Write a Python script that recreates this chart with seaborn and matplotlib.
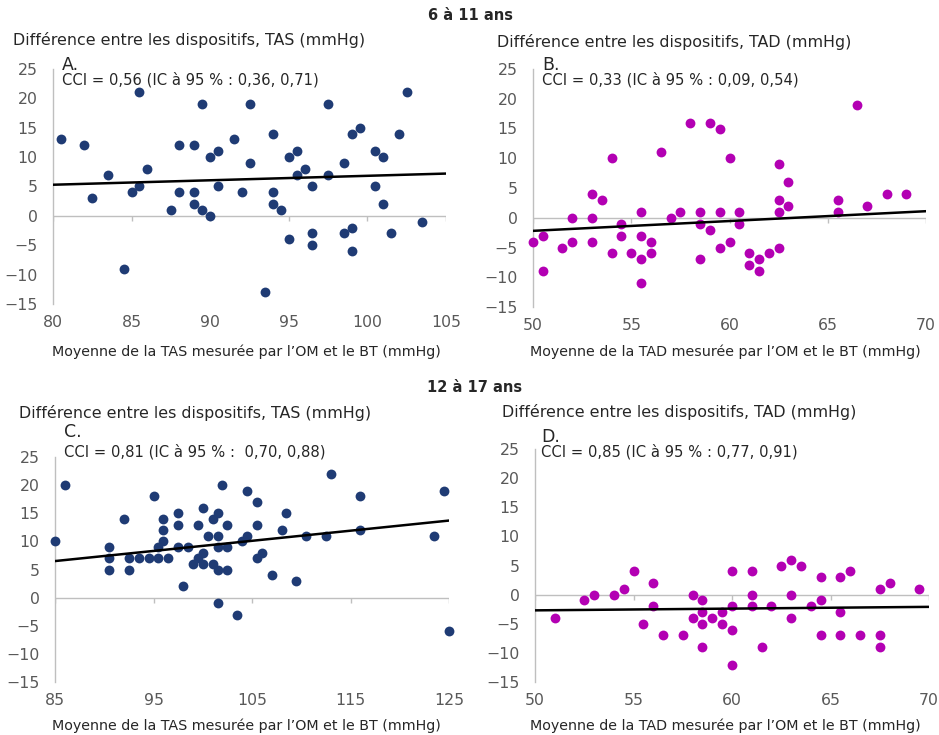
import matplotlib
matplotlib.use("Agg")
import matplotlib.pyplot as plt
import seaborn as sns

W, H = 939, 735

# A. 6 à 11 ans, TAS
tas_enf_x = [80.5, 82, 82.5, 83.5, 84.5, 85, 85.5, 85.5, 86, 87.5, 88, 88, 89, 89, 89, 89.5,
             89.5, 90, 90, 90.5, 90.5, 91.5, 92, 92.5, 92.5, 93.5, 94, 94, 94, 94.5, 95, 95,
             95.5, 95.5, 96, 96.5, 96.5, 96.5, 97.5, 97.5, 98.5, 98.5, 99, 99, 99, 99.5, 100.5,
             100.5, 101, 101, 101.5, 102, 102.5, 103.5]
tas_enf_y = [13, 12, 3, 7, -9, 4, 21, 5, 8, 1, 12, 4, 12, 4, 2, 19,
             1, 10, 0, 11, 5, 13, 4, 19, 9, -13, 14, 4, 2, 1, 10, -4,
             11, 7, 8, 5, -3, -5, 19, 7, 9, -3, 14, -2, -6, 15, 11,
             5, 10, 2, -3, 14, 21, -1]

# B. 6 à 11 ans, TAD
tad_enf_x = [50, 50.5, 50.5, 51.5, 52, 52, 53, 53, 53, 53.5, 54, 54, 54.5, 54.5, 55, 55.5,
             55.5, 55.5, 55.5, 56, 56, 56.5, 57, 57.5, 58, 58.5, 58.5, 58.5, 59, 59, 59.5, 59.5,
             59.5, 60, 60, 60.5, 60.5, 61, 61, 61.5, 61.5, 62, 62.5, 62.5, 62.5, 62.5, 63, 63,
             65.5, 65.5, 66.5, 67, 68, 69]
tad_enf_y = [-4, -3, -9, -5, 0, -4, 4, 0, -4, 3, 10, -6, -1, -3, -6, 1,
             -3, -7, -11, -4, -6, 11, 0, 1, 16, 1, -1, -7, 16, -2, 15, 1,
             -5, 10, -4, 1, -1, -6, -8, -7, -9, -6, 9, 3, 1, -5, 6, 2,
             3, 1, 19, 2, 4, 4]

# C. 12 à 17 ans, TAS
tas_ado_x = [85, 86, 90.5, 90.5, 90.5, 92, 92.5, 92.5, 93.5, 94.5, 95, 95.5, 95.5, 96, 96, 96,
             96.5, 97.5, 97.5, 97.5, 98, 98.5, 99, 99.5, 99.5, 100, 100, 100, 100.5, 101, 101,
             101.5, 101.5, 101.5, 101.5, 101.5, 102, 102.5, 102.5, 102.5, 103.5, 104, 104.5,
             104.5, 105.5, 105.5, 105.5, 106, 107, 108, 108.5, 109.5, 110.5, 112.5, 113, 116,
             116, 123.5, 124.5, 125]
tas_ado_y = [10, 20, 9, 7, 5, 14, 7, 5, 7, 7, 18, 9, 7, 14, 12, 10,
             7, 15, 13, 9, 2, 9, 6, 13, 7, 16, 8, 6, 11, 14, 6,
             15, 11, 9, 5, -1, 20, 13, 9, 5, -3, 10, 19,
             11, 17, 13, 7, 8, 4, 12, 15, 3, 11, 11, 22, 18,
             12, 11, 19, -6]

# D. 12 à 17 ans, TAD
tad_ado_x = [51, 52.5, 53, 54, 54.5, 55, 55.5, 56, 56, 56.5, 57.5, 58, 58, 58.5, 58.5, 58.5,
             58.5, 59, 59.5, 59.5, 60, 60, 60, 60, 61, 61, 61, 61.5, 62, 62.5, 63, 63, 63,
             63.5, 64, 64.5, 64.5, 64.5, 65.5, 65.5, 65.5, 66, 66.5, 67.5, 67.5, 67.5, 68, 69.5]
tad_ado_y = [-4, -1, 0, 0, 1, 4, -5, 2, -2, -7, -7, 0, -4, -1, -3, -5,
             -9, -4, -3, -5, 4, -2, -6, -12, 4, 0, -2, -9, -2, 5, 6, 0, -4,
             5, -2, 3, -1, -7, 3, -3, -7, 4, -7, 1, -7, -9, 2, 1]

# regression lines (ends)
trend_tas_enf = ([80, 105], [5.3, 7.2])
trend_tad_enf = ([50, 70], [-2.2, 1.1])
trend_tas_ado = ([85, 125], [6.5, 13.7])
trend_tad_ado = ([50, 70], [-2.7, -2.1])

xticks_tas_enf = [80, 85, 90, 95, 100, 105]
xticks_tas_ado = [85, 95, 105, 115, 125]
xticks_tad = [50, 55, 60, 65, 70]
yticks = [-15, -10, -5, 0, 5, 10, 15, 20, 25]

BLUE = "#1F3B74"
MAGENTA = "#B300B3"
GRAY = "#BFBFBF"
TXT = "#595959"

sns.set_style("white")
plt.rcParams['font.family'] = ['DejaVu Sans']

fig = plt.figure(figsize=(W / 100, H / 100), dpi=100)


def px_axes(left, top, right, bottom):
    return fig.add_axes([left / W, 1 - bottom / H, (right - left) / W, (bottom - top) / H])


def ftext(x, y, s, **kw):
    fig.text(x / W, 1 - y / H, s, **kw)


def draw_panel(ax, x, y, color, xticks, trend):
    sns.scatterplot(x=x, y=y, ax=ax, color=color, s=50, linewidth=0, clip_on=False, zorder=3)
    sns.lineplot(x=trend[0], y=trend[1], ax=ax, color="black", lw=1.8, zorder=4)
    ax.set_xlim(xticks[0], xticks[-1])
    ax.set_ylim(-15, 25)
    ax.set_xticks(xticks)
    ax.set_yticks(yticks)
    ax.axhline(0, color=GRAY, lw=1, zorder=1)
    ax.vlines(xticks, -0.9, 0, color=GRAY, lw=1, zorder=1)
    for side in ["top", "right", "bottom"]:
        ax.spines[side].set_visible(False)
    ax.spines["left"].set_color(GRAY)
    ax.spines["left"].set_linewidth(1)
    ax.tick_params(axis="x", length=0, pad=8, labelsize=11.3, labelcolor=TXT)
    ax.tick_params(axis="y", length=0, pad=11, labelsize=11.3, labelcolor=TXT)
    ax.set_xlabel("")
    ax.set_ylabel("")


axA = px_axes(53, 69, 446, 304)
axB = px_axes(533, 69, 926, 307)
axC = px_axes(55, 457, 449, 682)
axD = px_axes(535, 449, 929, 682)

draw_panel(axA, tas_enf_x, tas_enf_y, BLUE, xticks_tas_enf, trend_tas_enf)
draw_panel(axB, tad_enf_x, tad_enf_y, MAGENTA, xticks_tad, trend_tad_enf)
draw_panel(axC, tas_ado_x, tas_ado_y, BLUE, xticks_tas_ado, trend_tas_ado)
draw_panel(axD, tad_ado_x, tad_ado_y, MAGENTA, xticks_tad, trend_tad_ado)

# group titles
ftext(470, 15, "6 à 11 ans", ha="center", va="center", fontsize=10.5, fontweight="bold")
ftext(475, 388, "12 à 17 ans", ha="center", va="center", fontsize=10.5, fontweight="bold")

# y axis titles
ylab_tas = "Différence entre les dispositifs, TAS (mmHg)"
ylab_tad = "Différence entre les dispositifs, TAD (mmHg)"
ftext(13, 40, ylab_tas, va="center", fontsize=11.4)
ftext(497, 42, ylab_tad, va="center", fontsize=11.4)
ftext(19, 413, ylab_tas, va="center", fontsize=11.4)
ftext(502, 412, ylab_tad, va="center", fontsize=11.4)

# panel letters and CCI
ftext(62, 65, "A.", va="center", fontsize=12.5)
ftext(62, 80, "CCI = 0,56 (IC à 95 % : 0,36, 0,71)", va="center", fontsize=10.6)
ftext(542, 65, "B.", va="center", fontsize=12.5)
ftext(542, 80, "CCI = 0,33 (IC à 95 % : 0,09, 0,54)", va="center", fontsize=10.6)
ftext(64, 432, "C.", va="center", fontsize=12.5)
ftext(64, 452, "CCI = 0,81 (IC à 95 % :  0,70, 0,88)", va="center", fontsize=10.6)
ftext(541, 437, "D.", va="center", fontsize=12.5)
ftext(541, 452, "CCI = 0,85 (IC à 95 % : 0,77, 0,91)", va="center", fontsize=10.6)

# x axis titles
xlab_tas = "Moyenne de la TAS mesurée par l’OM et le BT (mmHg)"
xlab_tad = "Moyenne de la TAD mesurée par l’OM et le BT (mmHg)"
ftext(246, 352, xlab_tas, ha="center", va="center", fontsize=10.3)
ftext(725, 352, xlab_tad, ha="center", va="center", fontsize=10.3)
ftext(246, 726, xlab_tas, ha="center", va="center", fontsize=10.3)
ftext(725, 726, xlab_tad, ha="center", va="center", fontsize=10.3)

fig.savefig("out.png", dpi=100)
